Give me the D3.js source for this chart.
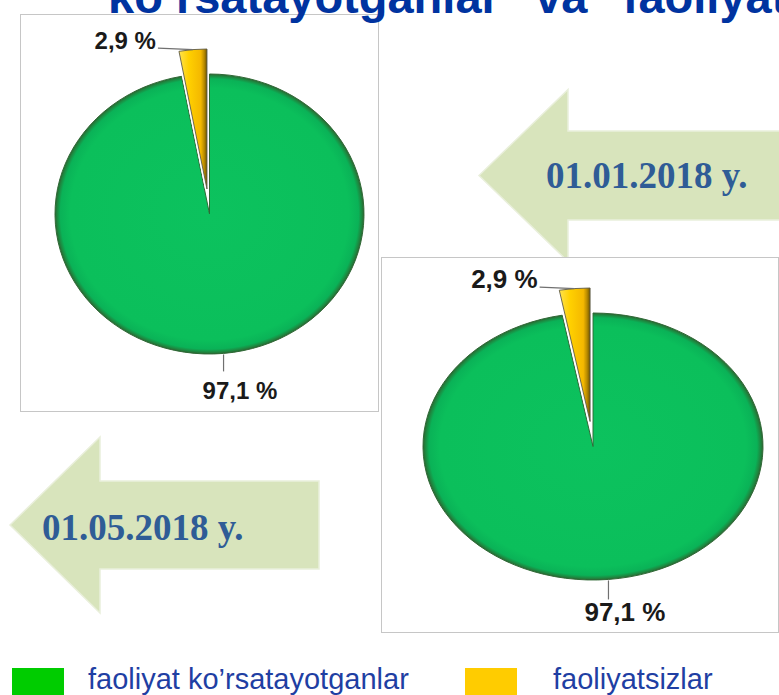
<!DOCTYPE html>
<html><head><meta charset="utf-8">
<script src="https://cdn.jsdelivr.net/npm/d3@7"></script>
<style>html,body{margin:0;padding:0;background:#fff;overflow:hidden}svg{display:block}</style>
</head><body>
<script>
// ---- data ----
const categories = ["faoliyat ko’rsatayotganlar", "faoliyatsizlar"];
const dates = ["01.01.2018 y.", "01.05.2018 y."];
const valuesJan = [97.1, 2.9];
const valuesMay = [97.1, 2.9];
const titleText = 'ko’rsatayotganlar" va "faoliyatsizlar"';
const colors = ["#00cc00", "#ffcc00"];

const W = 779, H = 695;
const svg = d3.select("body").append("svg").attr("width", W).attr("height", H);
const defs = svg.append("defs");

const gG = defs.append("radialGradient").attr("id", "gGreen").attr("cx", "50%").attr("cy", "50%").attr("r", "50%");
[[0, "#0cc25e"], [0.9, "#0bbf5b"], [0.965, "#0ab257"], [0.99, "#21803c"], [1, "#2f5f33"]]
  .forEach(([o, c]) => gG.append("stop").attr("offset", o).attr("stop-color", c));
const gY = defs.append("linearGradient").attr("id", "gYellow").attr("x1", 0).attr("x2", 1).attr("y1", 0).attr("y2", 0);
[[0, "#ffe34f"], [0.35, "#ffd000"], [0.78, "#f4b800"], [0.9, "#b98b00"], [1, "#6d5400"]]
  .forEach(([o, c]) => gY.append("stop").attr("offset", o).attr("stop-color", c));

// ---- arrows ----
const arrows = [
  {label: dates[0], tipX: 479, headX: 568, cy: 175.5, headHalf: 86, shaftHalf: 44.5, endX: 800, textX: 546, textY: 188},
  {label: dates[1], tipX: 10, headX: 100, cy: 525, headHalf: 88, shaftHalf: 44, endX: 319, textX: 42, textY: 540}
];
const line = d3.line();
arrows.forEach(a => {
  const pts = [[a.tipX, a.cy], [a.headX, a.cy - a.headHalf], [a.headX, a.cy - a.shaftHalf], [a.endX, a.cy - a.shaftHalf],
    [a.endX, a.cy + a.shaftHalf], [a.headX, a.cy + a.shaftHalf], [a.headX, a.cy + a.headHalf]];
  svg.append("path").attr("d", line(pts) + "Z").attr("fill", "#d8e4bc").attr("stroke", "#e9efdb").attr("stroke-width", 1.5);
  svg.append("text").attr("x", a.textX).attr("y", a.textY).text(a.label)
    .attr("font-family", "'Liberation Serif','Times New Roman',serif").attr("font-weight", "bold")
    .attr("font-size", 37).attr("fill", "#2f5c96");
});

// ---- pies ----
const pies = [
  {values: valuesJan, box: [20, 14, 378, 411], cx: 209.5, cy: 214, rx: 154.5, ry: 140, fs: 24, explode: 25,
    smallLeader: 35, bigLeader: 18, bigDy: 46, bigDx: -21},
  {values: valuesMay, box: [381, 257, 778, 632], cx: 593, cy: 446.5, rx: 170, ry: 133.5, fs: 26, explode: 25,
    smallLeader: 35, bigLeader: 20, bigDy: 42, bigDx: -24}
];
const pie = d3.pie().sort(null).value(d => d);
const fmt = v => String(v).replace(".", ",") + " %";

pies.forEach(p => {
  const [x0, y0, x1, y1] = p.box;
  svg.append("rect").attr("x", x0 + 0.5).attr("y", y0 + 0.5).attr("width", x1 - x0).attr("height", y1 - y0)
    .attr("fill", "#fff").attr("stroke", "#c6c6c6");
  const k = p.ry / p.rx;
  const arcs = pie(p.values);
  const arc = d3.arc().innerRadius(0).outerRadius(p.rx);
  const g = svg.append("g").attr("transform", `translate(${p.cx},${p.cy}) scale(1,${k})`);
  arcs.forEach((a, i) => {
    const mid = (a.startAngle + a.endAngle) / 2;
    if (i === 0) {
      g.append("path").attr("d", arc(a)).attr("fill", "url(#gGreen)")
        .attr("stroke", "#2f6a36").attr("stroke-width", 1).attr("vector-effect", "non-scaling-stroke");
    } else {
      const d = p.explode / k / Math.cos(mid);
      const t = `translate(${d * Math.sin(mid)},${-d * Math.cos(mid)})`;
      g.append("path").attr("d", arc(a)).attr("transform", t).attr("fill", "none")
        .attr("stroke", "#fff").attr("stroke-width", 4).attr("vector-effect", "non-scaling-stroke");
      g.append("path").attr("d", arc(a)).attr("transform", t).attr("fill", "url(#gYellow)")
        .attr("stroke", "#5e5a48").attr("stroke-width", 0.9).attr("vector-effect", "non-scaling-stroke");
    }
  });
  const font = "'Liberation Sans',Arial,sans-serif";
  // small slice label
  const s = arcs[1], sm = (s.startAngle + s.endAngle) / 2;
  const ex = p.cx + p.rx * Math.sin(sm) - p.explode * Math.sin(-sm) / k;
  const ey = p.cy - p.ry * Math.cos(sm) - p.explode;
  svg.append("line").attr("x1", ex - p.smallLeader).attr("y1", ey - 1.5).attr("x2", ex).attr("y2", ey)
    .attr("stroke", "#707070").attr("stroke-width", 1.2);
  svg.append("text").attr("x", ex - p.smallLeader - 2).attr("y", ey - 0.5).attr("text-anchor", "end")
    .text(fmt(p.values[1])).attr("font-family", font).attr("font-weight", "bold").attr("font-size", p.fs).attr("fill", "#1a1a1a");
  // big slice label
  const b = arcs[0], bm = (b.startAngle + b.endAngle) / 2;
  const bx = p.cx + p.rx * Math.sin(bm), by = p.cy - p.ry * Math.cos(bm);
  svg.append("line").attr("x1", bx).attr("y1", by + 1).attr("x2", bx).attr("y2", by + p.bigLeader)
    .attr("stroke", "#707070").attr("stroke-width", 1.2);
  svg.append("text").attr("x", bx + p.bigDx).attr("y", by + p.bigDy)
    .text(fmt(p.values[0])).attr("font-family", font).attr("font-weight", "bold").attr("font-size", p.fs).attr("fill", "#1a1a1a");
});

// ---- legend ----
const legend = [
  {sx: 12, tx: 88},
  {sx: 465, tx: 553}
];
categories.forEach((c, i) => {
  svg.append("rect").attr("x", legend[i].sx).attr("y", 668).attr("width", 52).attr("height", 30).attr("fill", colors[i]);
  svg.append("text").attr("x", legend[i].tx).attr("y", 689).text(c)
    .attr("font-family", "'Liberation Sans',Arial,sans-serif").attr("font-size", 29).attr("fill", "#1f3fa3");
});

// ---- title (the reference shows it cut off at the top edge) ----
svg.append("text").attr("x", 108).attr("y", 13).text(titleText)
  .attr("font-family", "'Liberation Sans',Arial,sans-serif").attr("font-weight", "bold")
  .attr("font-size", 47).attr("fill", "#0033a0");
</script>
</body></html>
